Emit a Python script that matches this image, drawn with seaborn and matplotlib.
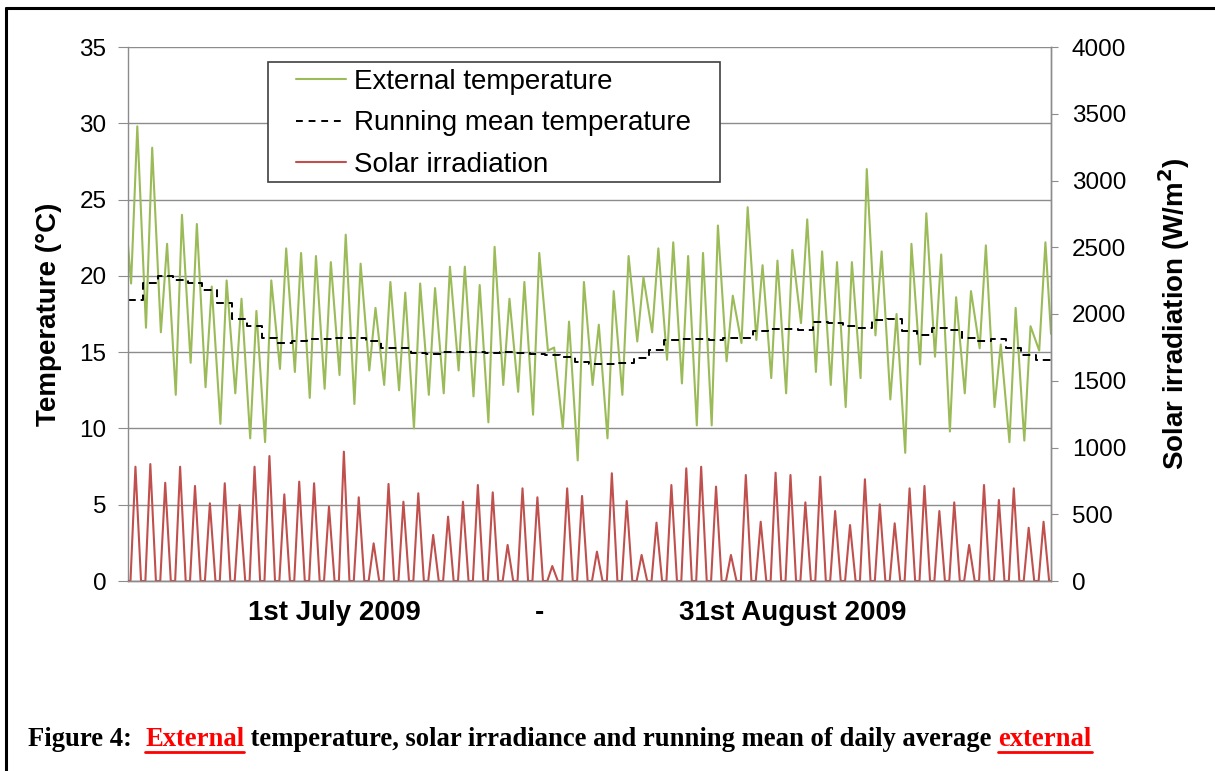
import numpy as np
import pandas as pd
import matplotlib
matplotlib.use('Agg')
import matplotlib.pyplot as plt
from matplotlib.lines import Line2D
from matplotlib.patches import Rectangle
import seaborn as sns

# ─── DATA (one value per day, 1 Jul - 31 Aug 2009) ───
days = np.arange(62)

# daily maximum / morning minimum of external temperature (°C)
temp_max = [29.8, 28.4, 22.1, 24.0, 23.4, 19.3, 19.7, 18.5, 17.7, 19.7,
            21.8, 21.5, 21.3, 20.9, 22.7, 20.8, 17.9, 19.6, 18.9, 19.5,
            19.2, 20.6, 20.6, 19.4, 21.9, 18.5, 19.6, 21.5, 15.3, 17.0,
            19.6, 16.8, 19.0, 21.3, 19.9, 21.8, 22.2, 21.3, 21.5, 23.3,
            18.7, 24.5, 20.7, 21.0, 21.7, 23.7, 21.6, 20.9, 20.9, 27.0,
            21.6, 17.5, 22.1, 24.1, 21.4, 18.6, 19.0, 22.0, 15.5, 17.9,
            16.7, 22.2]
temp_min = [19.5, 16.6, 16.3, 12.2, 14.3, 12.7, 10.3, 12.3, 9.35, 9.1,
            13.9, 13.7, 12.0, 12.6, 13.5, 11.6, 13.8, 12.85, 12.5, 10.0,
            12.2, 12.3, 13.8, 12.1, 10.4, 12.85, 12.4, 10.9, 15.1, 10.0,
            7.9, 12.85, 9.35, 12.2, 15.7, 16.3, 14.5, 12.95, 10.2, 10.2,
            14.4, 15.6, 15.8, 13.3, 12.3, 16.9, 13.7, 12.85, 11.4, 13.3,
            16.1, 11.9, 8.4, 14.2, 14.7, 9.8, 12.3, 15.25, 11.4, 9.1,
            9.2, 15.1]
temp_first, temp_last = 22.0, 16.2

# running mean of daily average external temperature (°C)
running_mean = [18.4, 19.5, 20.0, 19.7, 19.5, 19.1, 18.2, 17.2, 16.7, 15.9,
                15.6, 15.7, 15.85, 15.85, 15.95, 15.9, 15.75, 15.3, 15.25, 14.96,
                14.86, 15.0, 15.03, 15.03, 14.96, 15.03, 14.92, 14.86, 14.83, 14.7,
                14.33, 14.22, 14.22, 14.26, 14.64, 15.14, 15.8, 15.88, 15.84, 15.8,
                15.95, 15.95, 16.4, 16.5, 16.5, 16.45, 16.95, 16.9, 16.7, 16.6,
                17.1, 17.15, 16.4, 16.1, 16.56, 16.47, 15.9, 15.7, 15.84, 15.25,
                14.8, 14.5]

# daily peak of solar irradiation (W/m2)
solar_peak = [856, 876, 736, 856, 712, 582, 732, 569, 856, 936,
              649, 744, 732, 557, 969, 627, 282, 727, 594, 657,
              345, 482, 594, 719, 664, 270, 694, 627, 112, 694,
              637, 220, 807, 599, 195, 437, 719, 844, 856, 707,
              195, 794, 444, 811, 794, 589, 781, 524, 419, 762,
              574, 432, 694, 712, 524, 589, 270, 719, 607, 694,
              399, 444]

# time of day (hours) used to place the daily values
T_MIN_H, T_MAX_H = 5, 15
SUN_UP_H, SUN_NOON_H, SUN_DOWN_H = 4, 12, 21

# ─── BUILD SERIES ─────────────────────────────────────────────
t_x = [0.0]
t_y = [temp_first]
for d in days:
    t_x += [d + T_MIN_H / 24, d + T_MAX_H / 24]
    t_y += [temp_min[d], temp_max[d]]
t_x.append(62.0)
t_y.append(temp_last)
df_temp = pd.DataFrame({'day': t_x, 'temp': t_y})

df_mean = pd.DataFrame({'day': list(days) + [62],
                        'mean': running_mean + [running_mean[-1]]})

s_x = [0.0]
s_y = [0.0]
for d in days:
    s_x += [d + SUN_UP_H / 24, d + SUN_NOON_H / 24, d + SUN_DOWN_H / 24]
    s_y += [0.0, solar_peak[d], 0.0]
s_x.append(62.0)
s_y.append(0.0)
df_sun = pd.DataFrame({'day': s_x, 'sun': s_y})

GREEN = '#9BBB59'
RED = '#C0504D'
GRID = '#8C8C8C'
W, H = 1215, 771

# ─── PLOT ─────────────────────────────────────────────────────
sns.set_style('white')
plt.rcParams['font.family'] = ['Liberation Sans', 'DejaVu Sans']
plt.rcParams['text.color'] = 'black'
plt.rcParams['axes.labelcolor'] = 'black'

fig = plt.figure(figsize=(W / 100, H / 100), dpi=100)
ax = fig.add_axes([128 / W, 1 - 581 / H, (1051 - 128) / W, (581 - 47) / H])
ax2 = ax.twinx()

sns.lineplot(data=df_temp, x='day', y='temp', ax=ax, color=GREEN, lw=1.5)
sns.lineplot(data=df_mean, x='day', y='mean', ax=ax, color='black', lw=1.4,
             linestyle=(0, (4, 2.5)), drawstyle='steps-post')
sns.lineplot(data=df_sun, x='day', y='sun', ax=ax2, color=RED, lw=1.5)

ax.set_xlim(0, 62)
ax.set_ylim(0, 35)
ax2.set_ylim(0, 4000)
ax.set_yticks(np.arange(0, 36, 5))
ax2.set_yticks(np.arange(0, 4001, 500))
ax.set_xticks([])
ax.set_xlabel('')
ax2.set_xlabel('')

ax.yaxis.grid(True, color=GRID, lw=1)
ax.set_axisbelow(True)
for a in (ax, ax2):
    a.spines['top'].set_visible(False)
    for s in ('left', 'right', 'bottom'):
        a.spines[s].set_color(GRID)
        a.spines[s].set_linewidth(1)
ax2.spines['left'].set_visible(False)
ax.tick_params(axis='y', labelsize=17.5, length=7, color=GRID, left=True,
               pad=8.5, labelcolor='black')
ax2.tick_params(axis='y', labelsize=17.5, length=5, color=GRID, right=True,
                pad=10, labelcolor='black')

ax.set_ylabel('Temperature (°C)', fontsize=20, fontweight='bold')
ax2.set_ylabel('Solar irradiation (W/m$^\\mathbf{2}$)', fontsize=20,
               fontweight='bold')
ax.yaxis.set_label_coords((62 - 128) / 923, 0.5)
ax2.yaxis.set_label_coords((1156 - 128) / 923, 0.5)

# x-axis period labels
date_y = 1 - 613 / H
fig.text(334 / W, date_y, '1st July 2009', fontsize=20,
         fontweight='bold', ha='center', va='center')
fig.text(540 / W, date_y, '-', fontsize=20,
         fontweight='bold', ha='center', va='center')
fig.text(793 / W, date_y, '31st August 2009', fontsize=20,
         fontweight='bold', ha='center', va='center')

# legend: entries without frame, box drawn separately underneath
handles = [Line2D([], [], color=GREEN, lw=1.5),
           Line2D([], [], color='black', lw=1.4, linestyle=(0, (3.5, 3))),
           Line2D([], [], color=RED, lw=1.5)]
labels = ['External temperature', 'Running mean temperature', 'Solar irradiation']
leg = ax2.legend(handles, labels, loc='upper left',
                 bbox_to_anchor=(296 / W, 1 - 69 / H),
                 bbox_transform=fig.transFigure, fontsize=20, frameon=False,
                 handlelength=1.8, handletextpad=0.3, borderpad=0,
                 labelspacing=0.55, borderaxespad=0)
leg.set_zorder(6)
ax2.add_patch(Rectangle((268 / W, 1 - 182 / H), (720 - 268) / W, 120 / H,
                        transform=fig.transFigure, facecolor='white',
                        edgecolor='#404040', lw=1.2, zorder=5, clip_on=False))

# document frame lines
fig.add_artist(Line2D([6 / W, 6 / W], [0, 1 - 8 / H],
                      transform=fig.transFigure, color='black', lw=2.2))
fig.add_artist(Line2D([6 / W, 1], [1 - 8 / H, 1 - 8 / H],
                      transform=fig.transFigure, color='black', lw=2.2))

# caption
cap_y = 1 - 740 / H
serif = {'family': ['Liberation Serif', 'DejaVu Serif'], 'fontsize': 19.2,
         'fontweight': 'bold', 'va': 'center'}
parts = [('Figure 4:  ', 'black', False), ('External', '#FF0000', True),
         (' temperature, solar irradiance and running mean of daily average ', 'black', False),
         ('external', '#FF0000', True)]
fig.canvas.draw()
renderer = fig.canvas.get_renderer()
x0 = 28 / W
for txt, col, under in parts:
    t = fig.text(x0, cap_y, txt, color=col, **serif)
    bb = t.get_window_extent(renderer=renderer)
    if under:
        fig.add_artist(Line2D([bb.x0 / W, bb.x1 / W],
                              [(bb.y0 + 1) / H, (bb.y0 + 1) / H],
                              transform=fig.transFigure, color=col, lw=2))
    x0 += bb.width / W

fig.savefig('out.png', dpi=100)
plt.close(fig)
